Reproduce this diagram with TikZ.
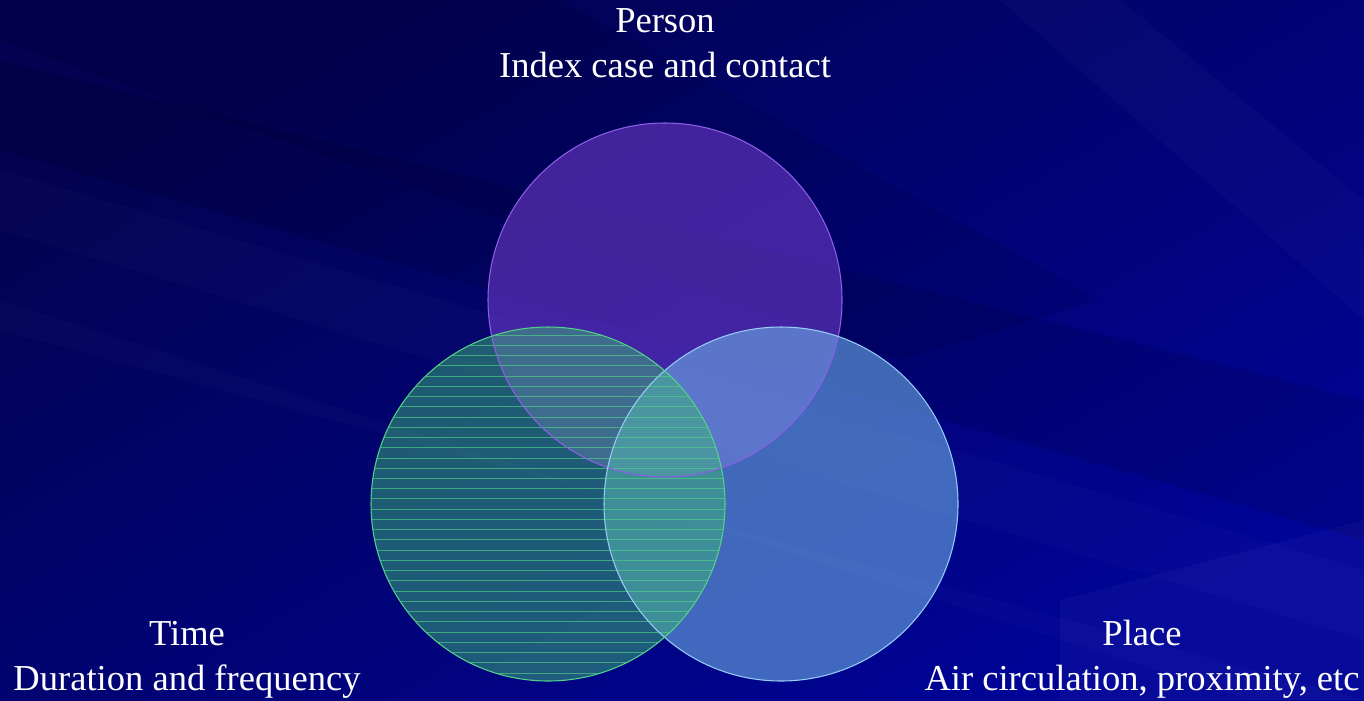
\documentclass[tikz,border=0pt]{standalone}
\usepackage{fontspec}
\setmainfont{Liberation Serif}
\usepackage{tikz}
\usepackage{xcolor}

\definecolor{navyDark}{RGB}{2,2,80}
\definecolor{navyLight}{RGB}{0,4,150}
\definecolor{personFill}{RGB}{110,58,200}
\definecolor{personEdge}{RGB}{140,95,230}
\definecolor{placeFill}{RGB}{108,172,228}
\definecolor{placeEdge}{RGB}{150,205,245}
\definecolor{timeFill}{RGB}{60,180,120}
\definecolor{timeEdge}{RGB}{80,210,135}

\begin{document}
\begin{tikzpicture}[x=0.02cm,y=-0.02cm,
  vennset/.style={circle, minimum size=7.08cm, inner sep=0pt, fill opacity=0.6},
  label/.style={text=white, align=center, font=\fontsize{20.8}{25.6}\selectfont}]
\useasboundingbox (0,0) rectangle (1364,700);

% background with streaks
\shade[top color=navyDark, bottom color=navyLight, shading angle=30] (0,0) rectangle (1364,700);
\fill[black, opacity=0.10] (0,60) -- (0,150) -- (1364,540) -- (1364,400) -- cycle;
\fill[black, opacity=0.08] (0,0) -- (0,40) -- (900,360) -- (1100,300) -- (560,0) -- cycle;
\fill[white, opacity=0.02] (0,170) -- (0,230) -- (1364,640) -- (1364,570) -- cycle;
\fill[white, opacity=0.02] (0,300) -- (0,330) -- (1364,700) -- (1250,700) -- cycle;
\fill[white, opacity=0.025] (1000,0) -- (1120,0) -- (1364,200) -- (1364,320) -- cycle;
\fill[white, opacity=0.03] (1060,600) -- (1364,520) -- (1364,700) -- (1060,700) -- cycle;

% circles
\node[vennset, fill=personFill] (person) at (665,300) {};
\node[vennset, fill=placeFill] (place) at (781,504) {};
\node[vennset, fill=timeFill, fill opacity=0.5,
  path picture={
    \foreach \i in {0,...,33}
      \draw[timeEdge, line width=0.45pt, draw opacity=0.65]
        ([yshift=-0.16cm-\i*0.2048cm]path picture bounding box.north west) -- ++(7.2cm,0);
  }] (time) at (548,504) {};

% outlines on top
\draw[personEdge, line width=0.6pt] (person.center) circle[radius=177];
\draw[placeEdge, line width=0.6pt] (place.center) circle[radius=177];
\draw[timeEdge, line width=0.6pt] (time.center) circle[radius=177];

% labels
\node[label, anchor=base] (personlbl) at (665,77) {Person\\Index case and contact};
\node[label, anchor=base] (timelbl) at (187,690) {Time\\Duration and frequency};
\node[label, anchor=base] (placelbl) at (1142,690) {Place\\Air circulation, proximity, etc};
\end{tikzpicture}
\end{document}
